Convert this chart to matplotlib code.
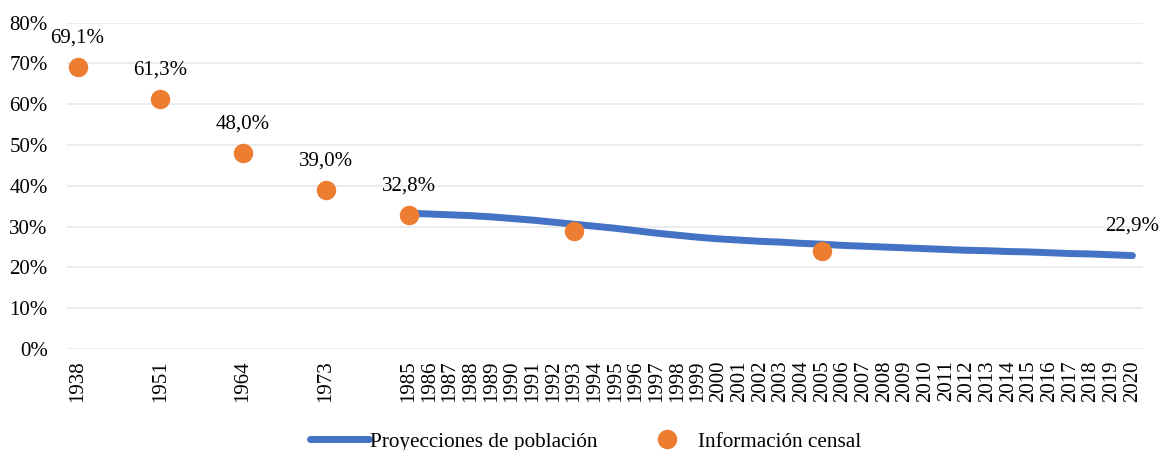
import matplotlib
matplotlib.use("Agg")
import matplotlib.pyplot as plt
from matplotlib.lines import Line2D

# ---- data ----
census_years = ["1938", "1951", "1964", "1973", "1985", "1993", "2005"]
census_values = [69.1, 61.3, 48.0, 39.0, 32.8, 29.0, 24.1]
census_labeled = [True, True, True, True, True, False, False]

proj_years = [str(y) for y in range(1985, 2021)]
proj_values = [33.3, 33.1, 32.9, 32.7, 32.4, 32.0, 31.6, 31.1, 30.6, 30.1,
               29.6, 29.0, 28.4, 27.9, 27.4, 27.0, 26.7, 26.4, 26.2, 25.9,
               25.7, 25.4, 25.2, 25.0, 24.8, 24.6, 24.4, 24.2, 24.1, 23.9,
               23.8, 23.6, 23.4, 23.3, 23.1, 22.9]

early_years = ["1938", "1951", "1964", "1973"]
y_ticks = [0, 10, 20, 30, 40, 50, 60, 70, 80]

# category positions: early censuses separated by blank categories (4 slots each)
pos = {}
for i, y in enumerate(early_years):
    pos[y] = i * 4
start = len(early_years) * 4
for i, y in enumerate(proj_years):
    pos[y] = start + i
all_years = early_years + proj_years

plt.rcParams['font.family'] = ['Liberation Serif', 'DejaVu Serif']
FS = 15

fig = plt.figure(figsize=(11.59, 4.5), dpi=100)
ax = fig.add_axes([0.058, 0.2244, 0.928, 0.7252])

BLUE = '#4472C4'
ORANGE = '#ED7D31'

ax.plot([pos[y] for y in proj_years], proj_values, color=BLUE, lw=5,
        solid_capstyle='round', solid_joinstyle='round', zorder=3)
ax.plot([pos[y] for y in census_years], census_values, linestyle='none',
        marker='o', ms=13, color=ORANGE, mec=ORANGE, zorder=4)

def fmt(v):
    return f"{v:.1f}".replace('.', ',') + '%'

for y, v, lab in zip(census_years, census_values, census_labeled):
    if lab:
        ax.annotate(fmt(v), (pos[y], v), xytext=(0, 21), textcoords='offset points',
                    ha='center', va='center', fontsize=FS)
ax.annotate(fmt(proj_values[-1]), (pos[proj_years[-1]], proj_values[-1]),
            xytext=(0, 21), textcoords='offset points',
            ha='center', va='center', fontsize=FS)

ax.set_ylim(0, 80)
ax.set_yticks(y_ticks)
ax.set_yticklabels([f"{t}%" for t in y_ticks], fontsize=FS)
ax.set_xlim(-0.5, pos[proj_years[-1]] + 0.5)
ax.set_xticks([pos[y] for y in all_years])
ax.set_xticklabels(all_years, rotation=90, fontsize=FS)
ax.tick_params(length=0)
ax.tick_params(axis='x', pad=8)
ax.tick_params(axis='y', pad=14)
ax.grid(axis='y', color='#EBEBEB', lw=1.3)
ax.set_axisbelow(True)
for s in ax.spines.values():
    s.set_visible(False)

handles = [Line2D([], [], color=BLUE, lw=5, solid_capstyle='round'),
           Line2D([], [], color=ORANGE, marker='o', ms=13, linestyle='none')]
fig.legend(handles, ['Proyecciones de población', 'Información censal'],
           loc='lower center', bbox_to_anchor=(0.505, -0.046), ncol=2, frameon=False,
           fontsize=FS + 0.3, handlelength=2.8, handletextpad=0.05, columnspacing=1.85)

fig.savefig('out.png', dpi=100)
